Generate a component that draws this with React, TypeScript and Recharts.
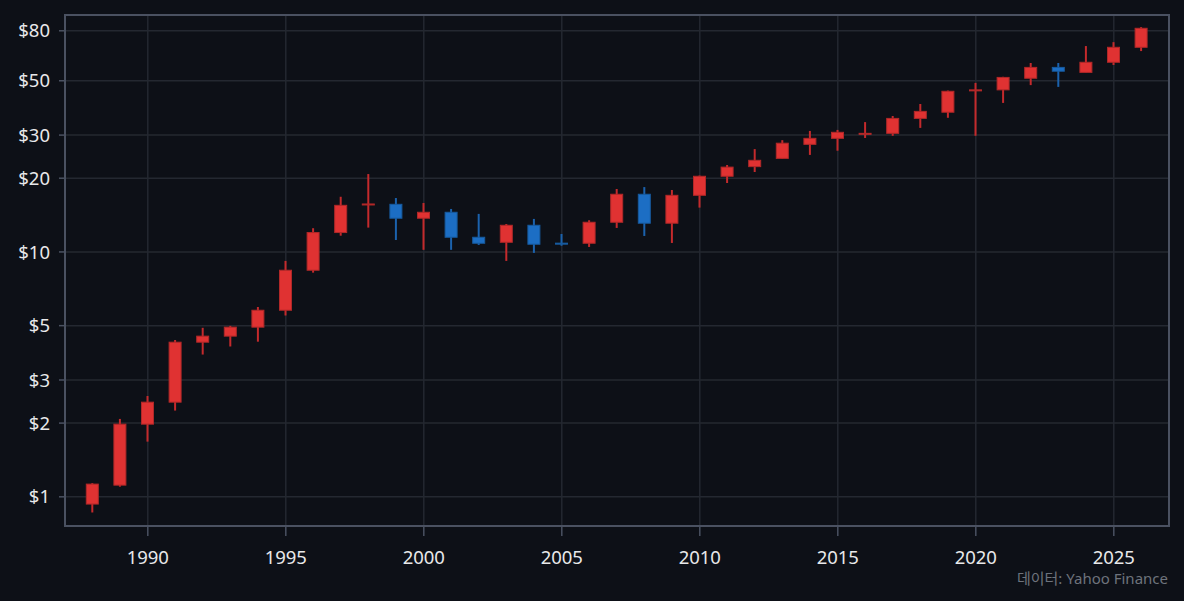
import React from "react";
import { ComposedChart, Bar, XAxis, YAxis, CartesianGrid, ReferenceArea } from "recharts";

const years = [1988,1989,1990,1991,1992,1993,1994,1995,1996,1997,1998,1999,2000,2001,2002,2003,2004,2005,2006,2007,2008,2009,2010,2011,2012,2013,2014,2015,2016,2017,2018,2019,2020,2021,2022,2023,2024,2025,2026];
const opens = [0.934,1.116,1.98,2.435,4.28,4.53,4.93,5.78,8.42,12.0,15.55,15.65,13.73,14.52,11.48,10.95,12.85,10.86,10.85,13.22,17.2,13.1,17.03,20.37,22.3,24.1,27.5,29.1,30.3,30.5,35.1,37.2,45.5,45.9,51.2,56.7,54.1,59.5,68.5];
const highs = [1.137,2.08,2.58,4.37,4.9,4.99,5.96,9.19,12.5,16.8,20.8,16.6,15.85,14.98,14.3,13.0,13.64,11.84,13.47,18.07,18.4,17.9,20.5,22.65,26.3,28.6,31.2,31.5,33.9,35.9,40.2,45.6,49.0,51.9,59.1,59.1,69.3,71.9,82.8];
const lows = [0.863,1.1,1.68,2.25,3.81,4.11,4.3,5.5,8.23,11.65,12.57,11.19,10.2,10.2,10.68,9.19,9.91,10.6,10.48,12.53,11.62,10.88,15.17,19.12,21.2,24.0,24.9,25.9,29.2,29.8,32.1,35.3,29.8,40.6,48.0,47.2,54.1,58.0,66.1];
const closes = [1.127,1.98,2.435,4.28,4.53,4.93,5.78,8.42,12.0,15.5,15.7,13.73,14.52,11.48,10.85,12.85,10.75,10.78,13.22,17.2,13.1,17.03,20.37,22.2,23.67,27.8,29.1,30.8,30.5,35.1,37.5,45.3,45.9,51.6,56.7,54.7,59.5,68.5,81.9];

const yTicks = [1, 2, 3, 5, 10, 20, 30, 50, 80];
const xTicks = [1990, 1995, 2000, 2005, 2010, 2015, 2020, 2025];
const xDomain = [1987, 2027];
const yDomain = [0.76, 92.8];

const data = years.map((y, i) => ({
  year: y,
  open: opens[i],
  high: highs[i],
  low: lows[i],
  close: closes[i],
  range: [lows[i], highs[i]],
}));

const UP_FILL = "#e03232";
const UP_STROKE = "#b02828";
const UP_WICK = "#c42a2c";
const DN_FILL = "#1c6ec4";
const DN_STROKE = "#175a9e";
const DN_WICK = "#1b62ad";

const Candle = (props: any) => {
  const { x, y, width, height, payload } = props;
  if (payload == null || height == null) return null;
  const { open, close, high, low } = payload;
  const lh = Math.log(high);
  const ll = Math.log(low);
  const span = lh - ll || 1;
  const toPx = (v: number) => y + (height * (lh - Math.log(v))) / span;
  const up = close >= open;
  const cx = x + width / 2;
  const top = toPx(Math.max(open, close));
  const bot = toPx(Math.min(open, close));
  const bh = Math.max(bot - top, 1);
  const bw = 12;
  return (
    <g>
      <line x1={cx} x2={cx} y1={y} y2={y + height} stroke={up ? UP_WICK : DN_WICK} strokeWidth={2} />
      <rect
        x={cx - bw / 2}
        y={top}
        width={bw}
        height={bh}
        fill={up ? UP_FILL : DN_FILL}
        stroke={up ? UP_STROKE : DN_STROKE}
        strokeWidth={1}
      />
    </g>
  );
};

export default function App() {
  const font = "'Noto Sans', 'Noto Sans CJK KR', sans-serif";
  return (
    <div
      style={{
        position: "absolute",
        left: 0,
        top: 0,
        width: 1184,
        height: 601,
        background: "#0d1017",
        fontFamily: font,
      }}
    >
      <ComposedChart
        width={1184}
        height={601}
        data={data}
        margin={{ top: 15, right: 15, bottom: 45, left: 0 }}
      >
        <CartesianGrid stroke="#242831" strokeWidth={1.5} />
        <XAxis
          dataKey="year"
          type="number"
          domain={xDomain}
          ticks={xTicks}
          allowDataOverflow
          height={30}
          axisLine={false}
          tickSize={10}
          tickMargin={15}
          tickLine={{ stroke: "#4a5161", strokeWidth: 1.5 }}
          tick={{ fill: "#e8e8ea", fontSize: 18.5, fontFamily: font }}
        />
        <YAxis
          scale="log"
          domain={yDomain}
          ticks={yTicks}
          allowDataOverflow
          width={65}
          axisLine={false}
          tickSize={6}
          tickMargin={9}
          tickLine={{ stroke: "#4a5161", strokeWidth: 1.5 }}
          tickFormatter={(v: number) => `$${v}`}
          tick={{ fill: "#e8e8ea", fontSize: 18.5, fontFamily: font }}
        />
        <Bar dataKey="range" barSize={13} shape={<Candle />} isAnimationActive={false} />
        <ReferenceArea
          x1={xDomain[0]}
          x2={xDomain[1]}
          y1={yDomain[0]}
          y2={yDomain[1]}
          fill="none"
          fillOpacity={0}
          stroke="#4a5161"
          strokeWidth={2}
          ifOverflow="extendDomain"
        />
      </ComposedChart>
      <div
        style={{
          position: "absolute",
          right: 16,
          top: 567,
          fontSize: 15,
          color: "#6e737c",
          fontFamily: font,
          whiteSpace: "nowrap",
        }}
      >
        데이터: Yahoo Finance
      </div>
    </div>
  );
}
